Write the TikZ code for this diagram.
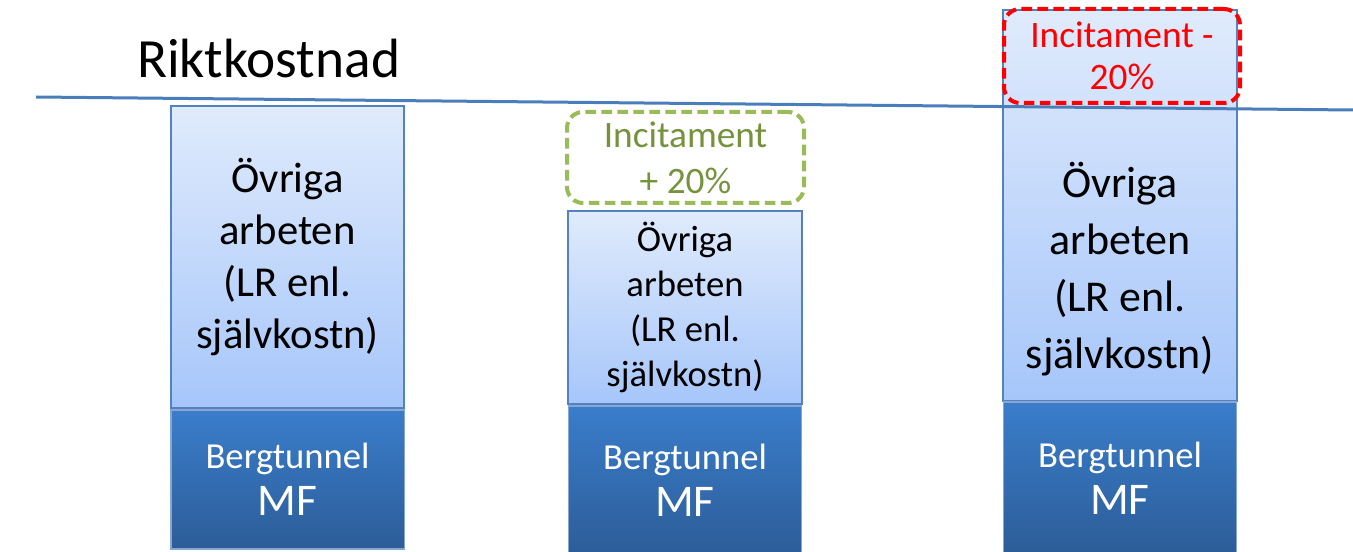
\documentclass[tikz,border=0pt]{standalone}
\usepackage{fontspec}
\setmainfont{Carlito}
\usepackage{tikz}
\usetikzlibrary{positioning}
\definecolor{lighttop}{RGB}{224,235,252}
\definecolor{lightbot}{RGB}{166,198,250}
\definecolor{darktop}{RGB}{58,125,203}
\definecolor{darkbot}{RGB}{44,93,152}
\definecolor{boxedge}{RGB}{84,130,190}
\definecolor{riktline}{RGB}{74,126,187}
\definecolor{plusedge}{RGB}{155,187,89}
\definecolor{plustext}{RGB}{118,146,60}

\tikzset{
  lightbox/.style={draw=boxedge, line width=1pt, top color=lighttop, bottom color=lightbot,
    inner sep=0pt, align=center, text=black},
  darkbox/.style={draw=boxedge!70, line width=1pt, top color=darktop, bottom color=darkbot,
    inner sep=0pt, align=center, text=white, minimum width=175pt,
    font=\fontsize{27.5}{35.25}\selectfont},
  incbox/.style={dashed, line width=3pt, rounded corners=12pt, dash pattern=on 8pt off 4pt,
    inner sep=0pt, align=center}
}
\newcommand{\mftext}{{\fontsize{34}{35.25}\selectfont MF}}

\begin{document}
\begin{tikzpicture}[x=0.75pt, y=-0.75pt]
    \useasboundingbox (0,0) rectangle (1353,552);

    % Title
    \node[anchor=base west, inner sep=0pt, font=\fontsize{41.5}{48}\selectfont] (rikt) at (137,78) {Riktkostnad};

    % Bar 1
    \node[lightbox, minimum width=174.75pt, minimum height=226.5pt,
          font=\fontsize{32}{39}\selectfont] (ovr1) at (287.5,257)
          {Övriga\\arbeten\\(LR enl.\\självkostn)};
    \node[darkbox, minimum height=104.25pt] (berg1) at (287.5,479.5) {Bergtunnel\\\mftext};

    % Bar 2
    \node[lightbox, minimum width=175.5pt, minimum height=144.75pt,
          font=\fontsize{27.5}{33.75}\selectfont] (ovr2) at (685,307.5)
          {Övriga\\arbeten\\(LR enl.\\självkostn)};
    \node[darkbox, minimum height=111.75pt] (berg2) at (685,480.5) {Bergtunnel\\\mftext};
    \node[incbox, draw=plusedge, text=plustext, minimum width=177.75pt, minimum height=68.25pt,
          font=\fontsize{28}{34.5}\selectfont] (plus) at (685.5,157.5) {Incitament\\+ 20\%};

    % Bar 3
    \node[lightbox, minimum width=175.5pt, minimum height=293.25pt] (ovr3) at (1120,205.5) {};
    \node[align=center, inner sep=0pt, font=\fontsize{33}{42.75}\selectfont] (ovr3txt) at (1120,269)
          {Övriga\\arbeten\\(LR enl.\\självkostn)};
    \node[darkbox, minimum height=114pt] (berg3) at (1120,478) {Bergtunnel\\\mftext};

    % Target cost line
    \coordinate (lineL) at (36,97);
    \coordinate (lineR) at (1353,110);
    \draw[riktline, line width=2.25pt] (lineL) -- (lineR);

    \node[incbox, draw=red, text=red, minimum width=177pt, minimum height=70.5pt,
          font=\fontsize{28}{31.5}\selectfont] (minus) at (1122,56) {Incitament -\\20\%};
\end{tikzpicture}
\end{document}
